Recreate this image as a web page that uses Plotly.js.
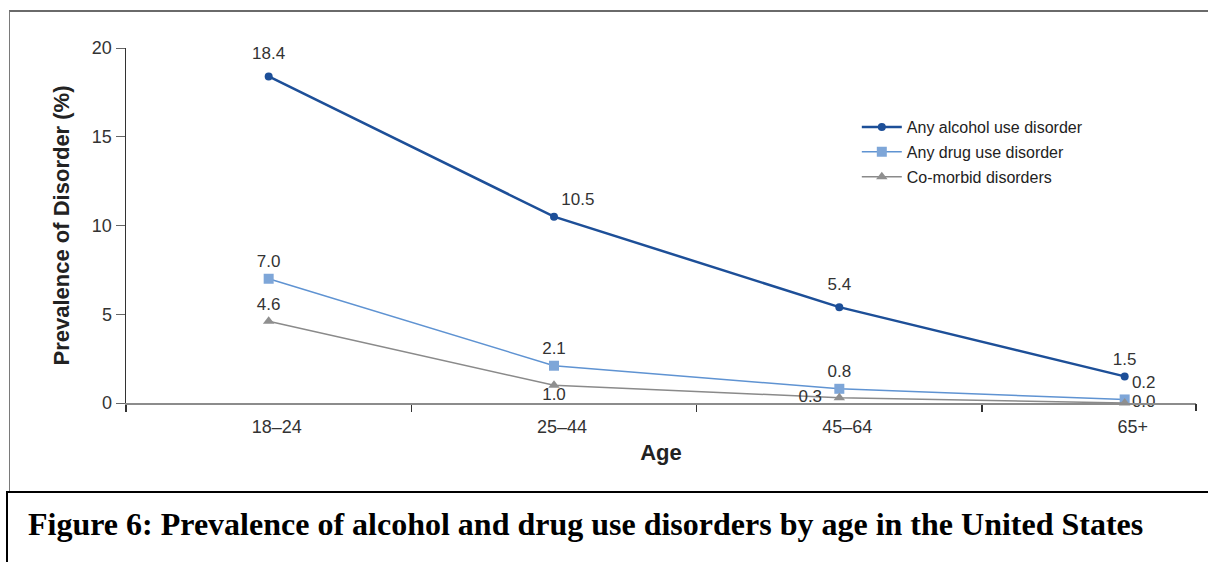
<!DOCTYPE html>
<html>
<head>
<meta charset="utf-8">
<script src="https://cdn.plot.ly/plotly-3.0.1.min.js"></script>
<style>
  html, body { margin: 0; padding: 0; background: #fff; width: 1208px; height: 562px; overflow: hidden; position: relative; }
  #topbox { position: absolute; left: 9px; top: 10px; width: 1220px; height: 482px; border-left: 1.5px solid #7a7a7a; border-top: 2px solid #6a6a6a; box-sizing: border-box; }
  #capbox { position: absolute; left: 6px; top: 491px; width: 1220px; height: 100px; border-left: 2px solid #000; border-top: 2.5px solid #000; box-sizing: border-box; }
  #caption { position: absolute; left: 28px; top: 508px; line-height: 1; font-family: "Liberation Serif", "Times New Roman", serif; font-weight: bold; font-size: 32px; color: #000; white-space: nowrap; }
  #chart { position: absolute; left: 0; top: 0; width: 1208px; height: 490px; }
</style>
</head>
<body>
<div id="topbox"></div>
<div id="capbox"></div>
<div id="caption">Figure 6: Prevalence of alcohol and drug use disorders by age in the United States</div>
<div id="chart"></div>
<script>
const categories = ["18–24", "25–44", "45–64", "65+"];
const alcohol = [18.4, 10.5, 5.4, 1.5];
const drug = [7.0, 2.1, 0.8, 0.2];
const comorbid = [4.6, 1.0, 0.3, 0.0];
const alcoholLabels = ["18.4", "10.5", "5.4", "1.5"];
const drugLabels = ["7.0", "2.1", "0.8", "0.2"];
const comorbidLabels = ["4.6", "1.0", "0.3", "0.0"];
const seriesNames = ["Any alcohol use disorder", "Any drug use disorder", "Co-morbid disorders"];
const yTicks = [0, 5, 10, 15, 20];

const FAM = "Liberation Sans, Arial, sans-serif";
const labelFont = { family: FAM, size: 17, color: "#333" };

const traces = [
  {
    x: categories, y: alcohol, name: seriesNames[0], legendgroup: "a",
    mode: "lines+markers",
    line: { color: "#1d4f98", width: 2.5 },
    marker: { symbol: "circle", size: 8, color: "#1d4f98" },
    cliponaxis: false
  },
  {
    x: categories, y: alcohol, showlegend: false, hoverinfo: "skip",
    mode: "markers+text", text: alcoholLabels,
    textposition: ["top center", "top right", "top center", "top center"],
    textfont: labelFont,
    marker: { size: [19, 10, 19, 10], opacity: 0 },
    cliponaxis: false
  },
  {
    x: categories, y: drug, name: seriesNames[1], legendgroup: "b",
    mode: "lines+markers+text", text: drugLabels,
    textposition: ["top center", "top center", "top center", "top right"],
    textfont: labelFont,
    line: { color: "#5f93d2", width: 1.5 },
    marker: { symbol: "square", size: 10, color: "#7ea6d8" },
    cliponaxis: false
  },
  {
    x: categories, y: comorbid, name: seriesNames[2], legendgroup: "c",
    mode: "lines+markers",
    line: { color: "#8a8a8a", width: 1.5 },
    marker: { symbol: "triangle-up", size: 10, color: "#8f8f8f" },
    cliponaxis: false
  },
  {
    x: categories, y: comorbid, showlegend: false, hoverinfo: "skip",
    mode: "markers+text", text: comorbidLabels,
    textposition: ["top center", "bottom center", "middle left", "middle right"],
    textfont: labelFont,
    marker: { size: [10, 2, 26, 10], opacity: 0 },
    cliponaxis: false
  },
  {
    x: [3.25], y: [0], xaxis: "x2", mode: "markers", showlegend: false,
    marker: { opacity: 0 }, hoverinfo: "skip"
  }
];

const layout = {
  width: 1208, height: 490,
  margin: { l: 126, r: 12, t: 48, b: 87 },
  paper_bgcolor: "rgba(0,0,0,0)",
  plot_bgcolor: "rgba(0,0,0,0)",
  showlegend: true,
  font: { family: FAM, color: "#333" },
  legend: {
    x: 0.683, y: 0.825, xanchor: "left", yanchor: "top",
    font: { family: FAM, size: 16, color: "#222" },
    bgcolor: "rgba(0,0,0,0)", tracegroupgap: 1, itemwidth: 40
  },
  xaxis: {
    type: "category", range: [-0.5, 3.25],
    tickson: "boundaries", ticks: "outside", ticklen: 7, tickwidth: 1.5, tickcolor: "#333",
    showline: true, linecolor: "#8c8c8c", linewidth: 1.5,
    showgrid: false, zeroline: false,
    ticklabelstandoff: 7, ticklabelshift: 8,
    tickfont: { family: FAM, size: 18, color: "#333" },
    title: { text: "Age", font: { family: FAM, size: 22, color: "#222", weight: "bold" }, standoff: 8 }
  },
  xaxis2: {
    overlaying: "x", side: "bottom", range: [-0.5, 3.25],
    tickvals: [3.25], ticktext: [""], ticks: "outside", ticklen: 7, tickwidth: 1.5, tickcolor: "#333",
    showline: false, showgrid: false, zeroline: false
  },
  yaxis: {
    range: [0, 20], tickvals: yTicks, ticktext: yTicks.map(String),
    ticks: "outside", ticklen: 9, tickwidth: 1, tickcolor: "#666",
    showline: true, linecolor: "#333", linewidth: 1.5,
    showgrid: false, zeroline: false,
    tickfont: { family: FAM, size: 18, color: "#333" },
    title: { text: "Prevalence of Disorder (%)", font: { family: FAM, size: 22, color: "#222", weight: "bold" }, standoff: 16 }
  }
};

Plotly.newPlot("chart", traces, layout, { displayModeBar: false, staticPlot: true });
</script>
</body>
</html>
